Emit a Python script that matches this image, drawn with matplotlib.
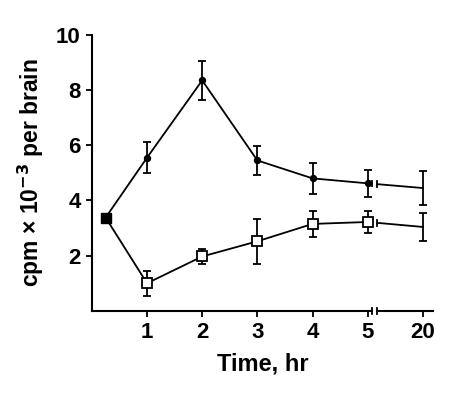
import numpy as np
import matplotlib.pyplot as plt
from matplotlib.transforms import blended_transform_factory

plt.rcParams['font.family'] = ['Liberation Sans', 'DejaVu Sans']
plt.rcParams['font.weight'] = 'bold'
plt.rcParams['axes.labelweight'] = 'bold'
plt.rcParams['mathtext.default'] = 'bf'

# data (x positions on a broken axis: 6 stands for 20 hr)
tick_pos = [1, 2, 3, 4, 5, 6]
tick_labels = ['1', '2', '3', '4', '5', '20']
start_x = 0.25
start_y = 3.38

filled_x = [1, 2, 3, 4, 5, 6]
filled_y = [5.55, 8.35, 5.45, 4.8, 4.62, 4.45]
filled_err = [0.55, 0.7, 0.52, 0.55, 0.5, 0.6]

open_x = [1, 2, 3, 4, 5, 6]
open_y = [1.0, 1.97, 2.52, 3.15, 3.22, 3.04]
open_err = [0.45, 0.28, 0.82, 0.48, 0.4, 0.5]

fig = plt.figure(figsize=(4.57, 3.96), dpi=100)
ax = fig.add_axes([0.201, 0.215, 0.746, 0.697])

gap_l, gap_r = 5.07, 5.17


def draw_series(xs, ys, face, ms, marker):
    xs_all = [start_x] + xs[:-1]
    ys_all = [start_y] + ys[:-1]
    ax.plot(xs_all, ys_all, color='black', lw=1.3, zorder=2)
    # broken segment from 5 to 20
    x5, y5, x6, y6 = xs[-2], ys[-2], xs[-1], ys[-1]
    slope = (y6 - y5) / (x6 - x5)
    yl = y5 + slope * (gap_l - x5)
    yr = y5 + slope * (gap_r - x5)
    ax.plot([x5, gap_l], [y5, yl], color='black', lw=1.3, zorder=2)
    ax.plot([gap_r, x6], [yr, y6], color='black', lw=1.3, zorder=2)
    ax.plot([gap_l, gap_l], [yl - 0.1, yl + 0.1], color='black', lw=1.3)
    ax.plot([gap_r, gap_r], [yr - 0.1, yr + 0.1], color='black', lw=1.3)
    ax.plot(xs[:-1], ys[:-1], linestyle='none', marker=marker, ms=ms,
            mfc=face, mec='black', mew=1.3, zorder=3)


ax.errorbar(filled_x, filled_y, yerr=filled_err, fmt='none', ecolor='black',
            elinewidth=1.3, capsize=3, capthick=1.3, zorder=2)
ax.errorbar(open_x, open_y, yerr=open_err, fmt='none', ecolor='black',
            elinewidth=1.3, capsize=3, capthick=1.3, zorder=2)
draw_series(filled_x, filled_y, 'black', 4, 'o')
draw_series(open_x, open_y, 'white', 7, 's')
ax.plot([start_x], [start_y], marker='s', ms=7, color='black', zorder=4)

ax.set_xlim(0, 6.18)
ax.set_ylim(0, 10)
ax.set_xticks(tick_pos)
ax.set_xticklabels(tick_labels)
ax.set_yticks([2, 4, 6, 8, 10])
ax.tick_params(labelsize=16, length=4, width=1.3, pad=4)

for s in ['top', 'right', 'bottom']:
    ax.spines[s].set_visible(False)
ax.spines['left'].set_linewidth(1.5)

# broken x axis
tr = blended_transform_factory(ax.transData, ax.transAxes)
ax.plot([0, gap_l], [0, 0], color='black', lw=1.5, transform=tr, clip_on=False)
ax.plot([gap_r, 6.18], [0, 0], color='black', lw=1.5, transform=tr, clip_on=False)
for g in (gap_l, gap_r):
    ax.plot([g, g], [-0.012, 0.012], color='black', lw=1.3, transform=tr, clip_on=False)

ax.set_xlabel('Time, hr', fontsize=17, labelpad=7)
ax.set_ylabel('cpm × 10$^{-3}$ per brain', fontsize=16.5, labelpad=7)

fig.savefig('out.png', dpi=100)
